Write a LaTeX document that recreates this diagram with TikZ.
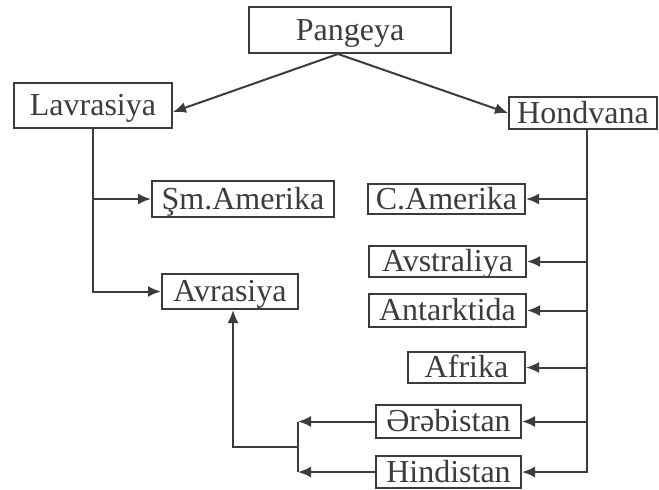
\documentclass[tikz,border=0pt]{standalone}
\usepackage{fontspec}
\setmainfont{Liberation Serif}
\usetikzlibrary{arrows.meta}
\definecolor{ink}{HTML}{3C3C3C}
\begin{document}
\begin{tikzpicture}[
    x=0.5pt, y=-0.5pt,
    box/.style={rectangle, draw=ink, line width=1pt, text=ink, inner sep=0pt,
        text height=12.5pt, text depth=2.5pt, font=\fontsize{16}{19}\selectfont},
    arr/.style={draw=ink, line width=1pt, -{Latex[length=6.5pt,width=5.5pt]}},
    ln/.style={draw=ink, line width=1pt}
]
\useasboundingbox (0,0) rectangle (659,489);

% Уровень 1
\node[box, minimum width=101pt, minimum height=23pt] (pan) at (350,30) {Pangeya};

% Уровень 2
\node[box, minimum width=79pt, minimum height=22.5pt] (lav) at (93,105.5) {Lavrasiya};
\node[box, minimum width=74pt, minimum height=16pt] (hon) at (583,113) {Hondvana};

% Лавразия
\node[box, minimum width=91pt, minimum height=18pt] (sam) at (243,199) {Şm.Amerika};
\node[box, minimum width=68pt, minimum height=17.5pt] (avr) at (230,291.5) {Avrasiya};

% Гондвана
\node[box, minimum width=78.5pt, minimum height=15pt] (cam) at (446.5,199) {C.Amerika};
\node[box, minimum width=78.5pt, minimum height=15.5pt] (avs) at (447.5,261.5) {Avstraliya};
\node[box, minimum width=78.5pt, minimum height=16.5pt] (ant) at (447.5,310.5) {Antarktida};
\node[box, minimum width=58.5pt, minimum height=15.5pt] (afr) at (466.5,367.5) {Afrika};
\node[box, minimum width=72.5pt, minimum height=16.5pt] (ara) at (448.5,421.5) {Ərəbistan};
\node[box, minimum width=72.5pt, minimum height=16pt] (hin) at (448.5,472) {Hindistan};

% Точки ветвления
\coordinate (top) at ([xshift=-6pt]pan.south);
\coordinate (hv) at ([xshift=2pt]hon.south);
\coordinate (jn) at (298,447);

% Рёбра от Pangeya
\draw[arr] (top) -- ([yshift=-3.25pt]lav.east);
\draw[arr] (top) -- (hon.west);

% Рёбра от Lavrasiya
\draw[arr] (lav.south) |- (avr.west);
\draw[arr] (lav.south |- sam.west) -- (sam.west);

% Рёбра от Hondvana
\draw[arr] (hv) |- (hin.east);
\draw[arr] (hv |- cam.east) -- (cam.east);
\draw[arr] (hv |- avs.east) -- (avs.east);
\draw[arr] (hv |- ant.east) -- (ant.east);
\draw[arr] (hv |- afr.east) -- (afr.east);
\draw[arr] (hv |- ara.east) -- (ara.east);

% Ərəbistan, Hindistan -> Avrasiya
\draw[arr] (ara.west) -- (jn |- ara.west);
\draw[arr] (hin.west) -- (jn |- hin.west);
\draw[ln] (jn |- ara.west) -- (jn |- hin.west);
\draw[arr] (jn) -| ([xshift=1.5pt]avr.south);
\end{tikzpicture}
\end{document}
